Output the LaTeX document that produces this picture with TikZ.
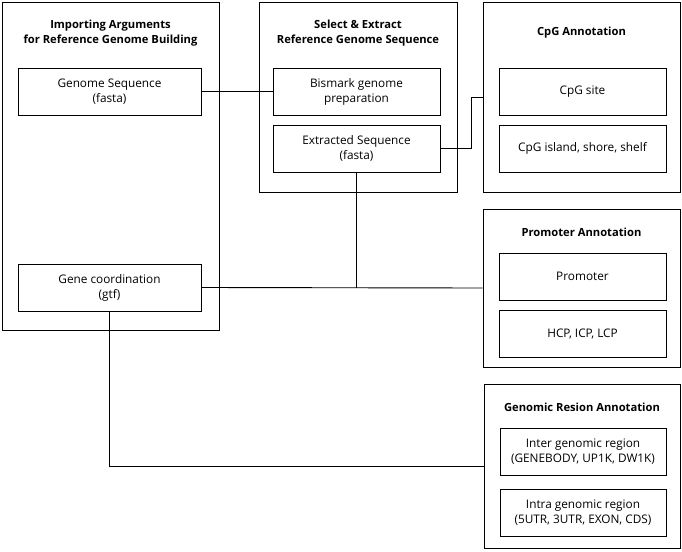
\documentclass[tikz,border=0pt]{standalone}
\usepackage{fontspec}
\setmainfont{Open Sans}
\begin{document}
\begin{tikzpicture}[x=1pt,y=-1pt,
  outer/.style={draw, line width=0.9pt, inner sep=0pt},
  inner/.style={draw, line width=0.9pt, inner sep=0pt, align=center,
    minimum width=167pt, minimum height=47pt,
    font=\fontsize{11.8}{15}\selectfont},
  ttl/.style={align=center, font=\fontsize{11.2}{15}\selectfont\bfseries},
  conn/.style={line width=0.9pt}]
\useasboundingbox (0,0) rectangle (682,551);
% outer groups
\node[outer, minimum width=217pt, minimum height=328pt] (A) at (110.5,166) {};
\node[outer, minimum width=198pt, minimum height=190pt] (B) at (358,97) {};
\node[outer, minimum width=197pt, minimum height=190pt] (C) at (581.5,97) {};
\node[outer, minimum width=197pt, minimum height=158pt] (D) at (581.5,288) {};
\node[outer, minimum width=196pt, minimum height=164pt] (E) at (582,466) {};
% titles
\node[ttl] (tA) at (110.5,33) {Importing Arguments\\for Reference Genome Building};
\node[ttl] (tB) at (358,33) {Select \& Extract\\Reference Genome Sequence};
\node[ttl] (tC) at (581.5,33) {CpG Annotation};
\node[ttl] (tD) at (581.5,232) {Promoter Annotation};
\node[ttl] (tE) at (582,407) {Genomic Resion Annotation};
% inner boxes
\node[inner, minimum width=183pt] (gs) at (109.5,91.5) {Genome Sequence\\(fasta)};
\node[inner, minimum width=183pt] (gc) at (109.5,287.5) {Gene coordination\\(gtf)};
\node[inner] (bis) at (356.5,91.5) {Bismark genome\\preparation};
\node[inner] (ext) at (356.5,148.5) {Extracted Sequence\\(fasta)};
\node[inner] (site) at (582.5,91.5) {CpG site};
\node[inner] (isl) at (582.5,148.5) {CpG island, shore, shelf};
\node[inner] (prom) at (582.5,276.5) {Promoter};
\node[inner] (hcp) at (582.5,334) {HCP, ICP, LCP};
\node[inner, minimum width=166pt] (inter) at (583,451.5) {Inter genomic region\\(GENEBODY, UP1K, DW1K)};
\node[inner, minimum width=166pt] (intra) at (583,512.5) {Intra genomic region\\(5UTR, 3UTR, EXON, CDS)};
% connectors
\draw[conn] (gs.east) -- (bis.west);
\draw[conn] (ext.east) -- ++(31,0) |- (C.west);
\draw[conn] (gc.east) -- (D.west);
\draw[conn] (ext.south) -- (ext.south |- D.west);
\draw[conn] (gc.south) |- (E.west);
\end{tikzpicture}
\end{document}
